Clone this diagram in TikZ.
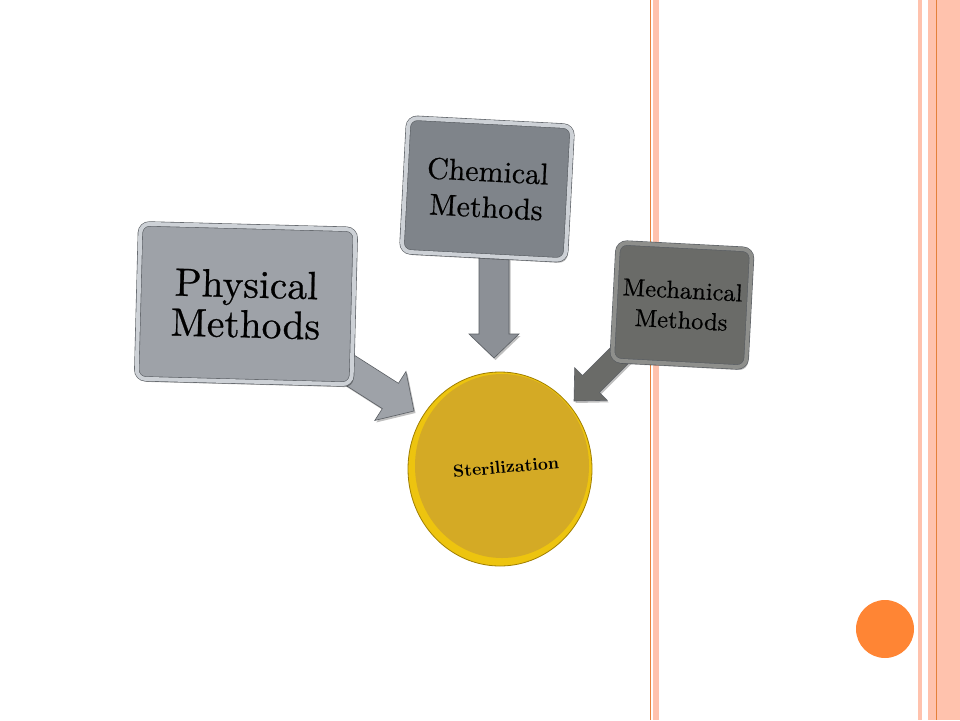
\documentclass[tikz,border=0pt]{standalone}
\usepackage{fontspec}
\newfontfamily\lmten{lmroman10-regular.otf}[FakeBold=0.6]
\newfontfamily\lmtenbf{lmroman10-bold.otf}
\usetikzlibrary{shadows,shapes.geometric}
\definecolor{physfill}{HTML}{9EA2A8}
\definecolor{chemfill}{HTML}{7F848A}
\definecolor{mechfill}{HTML}{6A6B68}
\definecolor{framelt}{HTML}{CDD1D6}
\definecolor{framemech}{HTML}{8E8F8C}
\definecolor{edgegray}{HTML}{5A5E63}
\definecolor{gold}{HTML}{D4AA25}
\definecolor{rim}{HTML}{EDC40F}
\definecolor{rimdark}{HTML}{A07E00}
\definecolor{salmon}{HTML}{FFC2AD}
\definecolor{orangeline}{HTML}{E4803A}
\definecolor{dotcol}{HTML}{FF8534}
\newcommand{\blockarrow}[7]{%
  \begin{scope}[shift={(#1)}, rotate=#2]
    \path[#7] (0,0) -- (-#6,#5/2) -- (-#6,#4/2) -- (-#3,#4/2) -- (-#3,-#4/2)
      -- (-#6,-#4/2) -- (-#6,-#5/2) -- cycle;
  \end{scope}}
\tikzset{
  methodbox/.style={rounded corners=9pt, align=center, inner sep=0pt,
    draw=edgegray, line width=0.6pt, double=framelt, double distance=4pt,
    drop shadow={shadow xshift=2pt, shadow yshift=-3pt, opacity=0.3, fill=black}},
  arrowbody/.style={fill=#1, draw=edgegray, line width=0.6pt, line join=miter,
    drop shadow={shadow xshift=1.5pt, shadow yshift=-2pt, opacity=0.25, fill=black}},
}
\begin{document}
\begin{tikzpicture}[x=1pt, y=-1pt]
  \useasboundingbox (0,0) rectangle (960,720);
  \fill[white] (0,0) rectangle (960,720);
  % slide decoration
  \fill[orangeline] (649.5,0) rectangle (651,720);
  \fill[salmon] (653,0) rectangle (658.5,720);
  \fill[salmon] (918,0) rectangle (921.5,720);
  \fill[salmon] (927.5,0) rectangle (960,720);
  \fill[orangeline] (935.5,0) rectangle (937,720);
  \node[circle, fill=dotcol, minimum size=58pt, inner sep=0pt] (dot) at (885,629) {};

  % arrow tips
  \coordinate (ptip) at (414,411);
  \coordinate (ctip) at (494,358);
  \coordinate (mtip) at (574,401);
  \blockarrow{ptip}{-32.5}{100}{30}{58}{28}{arrowbody=physfill}
  \blockarrow{ctip}{-90}{112}{30}{50}{24}{arrowbody=chemfill!90!white}
  \blockarrow{mtip}{225}{82}{24}{46}{24}{arrowbody=mechfill}

  % boxes
  \node[methodbox, fill=physfill, minimum width=215pt, minimum height=155pt, rotate=-1.5,
        font=\lmten\fontsize{39.5}{40}\selectfont] (phys) at (246,304) {Physical\\Methods};
  \node[methodbox, fill=chemfill, minimum width=164pt, minimum height=134pt, rotate=-3,
        font=\lmten\fontsize{30}{36}\selectfont] (chem) at (487,189) {Chemical\\Methods};
  \node[methodbox, fill=mechfill, double=framemech, minimum width=134pt, minimum height=118pt, rotate=-3,
        font=\lmten\fontsize{24.5}{30}\selectfont] (mech) at (682,305) {Mechanical\\Methods};

  % sterilization coin
  \draw[fill=rim, draw=rimdark, line width=0.8pt] (500,469) ellipse [x radius=92, y radius=97];
  \fill[gold] (502,466) ellipse [x radius=87, y radius=92];
  \node[rotate=5, font=\lmtenbf\fontsize{17.4}{20}\selectfont] (ster) at (506,467) {Sterilization};
\end{tikzpicture}
\end{document}
